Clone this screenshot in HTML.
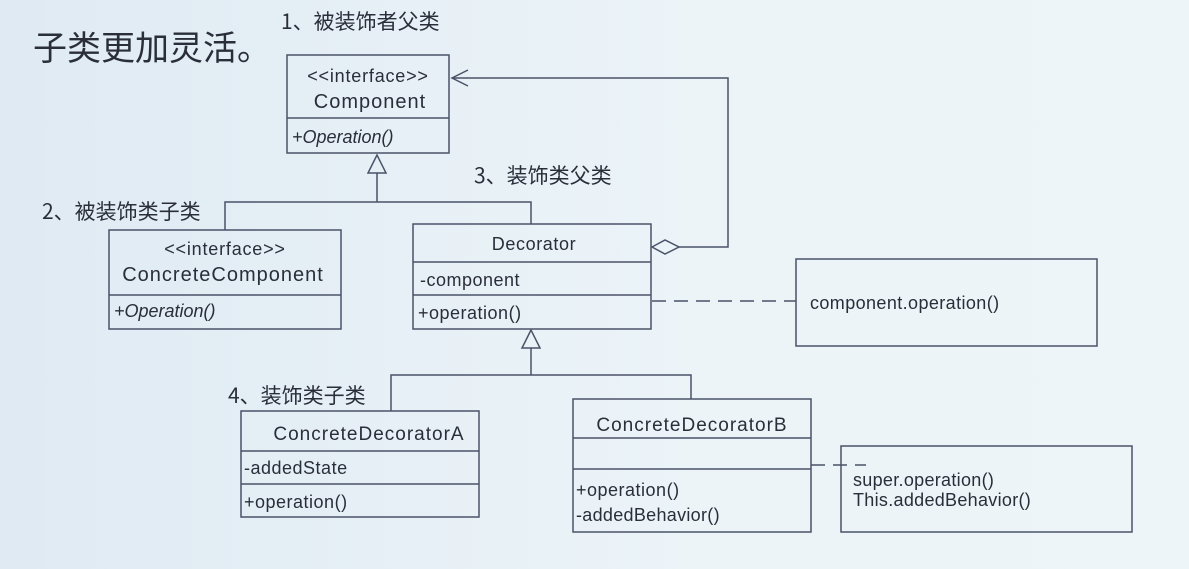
<!DOCTYPE html>
<html><head><meta charset="utf-8"><style>
body{margin:0;width:1189px;height:569px;overflow:hidden;background:linear-gradient(90deg,#dfeaf3,#ecf4f8 60%,#eef5f8);}
svg{position:absolute;left:0;top:0}
text{font-family:"Liberation Sans","Noto Sans CJK SC",sans-serif;fill:#2a2e3a}
.cn{font-family:"Noto Sans CJK SC","WenQuanYi Zen Hei",sans-serif;fill:#2a2e3a}
</style></head><body>
<svg width="1189" height="569" viewBox="0 0 1189 569">
<g fill="none" stroke="#4a5368" stroke-width="1.5">
<rect x="287" y="55" width="162" height="98"/><line x1="287" y1="118" x2="449" y2="118"/>
<rect x="109" y="230" width="232" height="99"/><line x1="109" y1="295" x2="341" y2="295"/>
<rect x="413" y="224" width="238" height="105"/><line x1="413" y1="262" x2="651" y2="262"/><line x1="413" y1="295" x2="651" y2="295"/>
<rect x="796" y="259" width="301" height="87"/>
<rect x="241" y="411" width="238" height="106"/><line x1="241" y1="451" x2="479" y2="451"/><line x1="241" y1="484" x2="479" y2="484"/>
<rect x="573" y="399" width="238" height="133"/><line x1="573" y1="438" x2="811" y2="438"/><line x1="573" y1="469" x2="811" y2="469"/>
<rect x="841" y="446" width="291" height="86"/>
<polygon points="377,155 368,173 386,173"/>
<polyline points="377,173 377,202"/>
<polyline points="225,230 225,202 531,202 531,224"/>
<polygon points="531,330 522,348 540,348"/>
<polyline points="531,348 531,375"/>
<polyline points="391,411 391,375 691,375 691,399"/>
<polyline points="679,247 728,247 728,78 452,78"/>
<polyline points="468,70 452,78 468,86"/>
<polygon points="652,247 665,240 679,247 665,254"/>
<line x1="652" y1="301" x2="796" y2="301" stroke-dasharray="14,8"/>
<line x1="811" y1="465" x2="866" y2="465" stroke-dasharray="14,8"/>
</g>
<text class="cn" x="33" y="60" font-size="34">子类更加灵活。</text>
<text class="cn" x="281" y="29" font-size="21">1、被装饰者父类</text>
<text class="cn" x="42" y="219" font-size="21">2、被装饰类子类</text>
<text class="cn" x="474" y="183" font-size="21">3、装饰类父类</text>
<text class="cn" x="228" y="403" font-size="21">4、装饰类子类</text>
<g font-size="18">
<text x="368" y="82" text-anchor="middle" letter-spacing="0.8">&lt;&lt;interface&gt;&gt;</text>
<text x="370" y="108" text-anchor="middle" font-size="20" letter-spacing="1">Component</text>
<text x="292" y="143" font-style="italic">+Operation()</text>
<text x="225" y="255" text-anchor="middle" letter-spacing="0.8">&lt;&lt;interface&gt;&gt;</text>
<text x="223" y="281" text-anchor="middle" font-size="20" letter-spacing="1">ConcreteComponent</text>
<text x="114" y="317" font-style="italic">+Operation()</text>
<text x="534" y="250" text-anchor="middle" letter-spacing="0.6">Decorator</text>
<text x="420" y="286" letter-spacing="0.5">-component</text>
<text x="418" y="319" letter-spacing="0.5">+operation()</text>
<text x="810" y="309" letter-spacing="0.4">component.operation()</text>
<text x="369" y="440" text-anchor="middle" font-size="19" letter-spacing="1">ConcreteDecoratorA</text>
<text x="244" y="474" letter-spacing="0.5">-addedState</text>
<text x="244" y="508" letter-spacing="0.5">+operation()</text>
<text x="692" y="431" text-anchor="middle" font-size="19" letter-spacing="1">ConcreteDecoratorB</text>
<text x="576" y="496" letter-spacing="0.5">+operation()</text>
<text x="576" y="521" letter-spacing="0.3">-addedBehavior()</text>
<text x="853" y="486" letter-spacing="0.3">super.operation()</text>
<text x="853" y="506" letter-spacing="0.3">This.addedBehavior()</text>
</g>
</svg>
</body></html>
